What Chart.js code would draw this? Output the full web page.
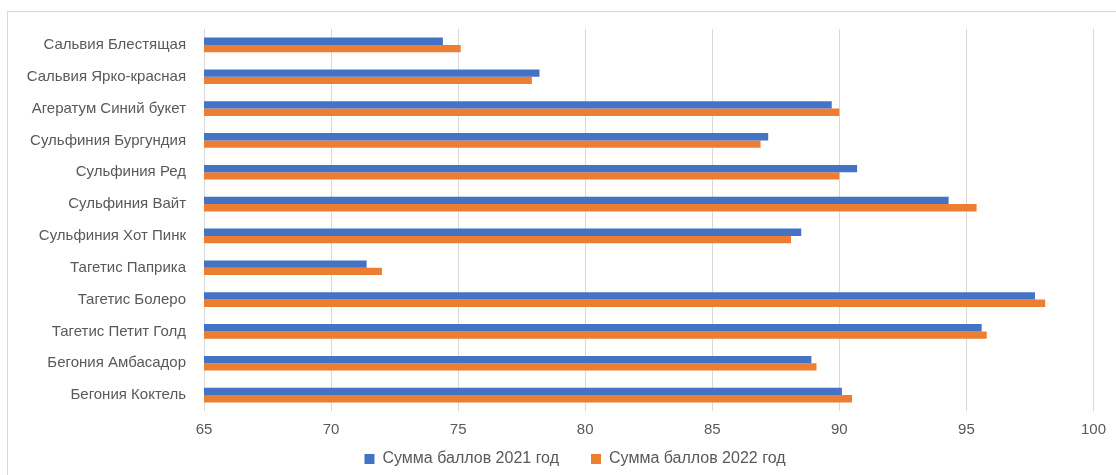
<!DOCTYPE html>
<html>
<head>
<meta charset="utf-8">
<script src="https://cdn.jsdelivr.net/npm/chart.js@4/dist/chart.umd.min.js"></script>
<style>
  html, body { margin: 0; padding: 0; background: #fff; }
  #wrap { position: relative; width: 1116px; height: 475px; }
  #wrap::before {
    content: ''; position: absolute; left: 7px; top: 11px; right: 0; bottom: 0;
    border-left: 1px solid #d9d9d9; border-top: 1px solid #d9d9d9;
  }
  canvas { position: relative; }
</style>
</head>
<body>
<div id="wrap"><canvas id="scoreChart" width="1116" height="475"></canvas></div>
<script>
const categories = [
    'Сальвия Блестящая',
    'Сальвия Ярко-красная',
    'Агератум Синий букет',
    'Сульфиния Бургундия',
    'Сульфиния Ред',
    'Сульфиния Вайт',
    'Сульфиния Хот Пинк',
    'Тагетис Паприка',
    'Тагетис Болеро',
    'Тагетис Петит Голд',
    'Бегония Амбасадор',
    'Бегония Коктель'
];
const scores2021 = [74.4, 78.2, 89.7, 87.2, 90.7, 94.3, 88.5, 71.4, 97.7, 95.6, 88.9, 90.1];
const scores2022 = [75.1, 77.9, 90.0, 86.9, 90.0, 95.4, 88.1, 72.0, 98.1, 95.8, 89.1, 90.5];
const xTicks = [65, 70, 75, 80, 85, 90, 95, 100];

const textColor = '#595959';
const gridColor = '#d9d9d9';
const fontFamily = "'Liberation Sans', Arial, sans-serif";

// The legend wants a wide gap between items (labels.padding) but that padding also
// pushes it down; squeeze its box for layout, then stretch its top back up.
const legendSqueeze = {
    id: 'legendSqueeze',
    beforeLayout(chart) {
        const legend = chart.legend;
        if (!legend || legend._squeezed) return;
        const fit = legend.fit;
        legend.fit = function () {
            fit.call(this);
            this.height = 28;
        };
        legend._squeezed = true;
    },
    afterLayout(chart) {
        const legend = chart.legend;
        legend.top -= 28;
        legend.left += 27;
        legend.right += 27;
    }
};

const ctx = document.getElementById('scoreChart').getContext('2d');
new Chart(ctx, {
    type: 'bar',
    data: {
        labels: categories,
        datasets: [{
            label: 'Сумма баллов 2021 год',
            data: scores2021,
            backgroundColor: '#4472C4'
        }, {
            label: 'Сумма баллов 2022 год',
            data: scores2022,
            backgroundColor: '#ED7D31'
        }]
    },
    options: {
        indexAxis: 'y',
        responsive: false,
        animation: false,
        layout: {
            padding: { top: 29, right: 20, left: 0, bottom: 0 }
        },
        datasets: {
            bar: { barPercentage: 1, categoryPercentage: 0.46 }
        },
        scales: {
            x: {
                min: 65,
                max: 100,
                afterBuildTicks: (scale) => {
                    scale.ticks = xTicks.map(v => ({ value: v }));
                },
                afterFit: (scale) => { scale.height = 36; },
                grid: { color: gridColor, drawTicks: false },
                border: { display: false },
                ticks: {
                    color: textColor,
                    padding: 10,
                    font: { family: fontFamily, size: 15 }
                }
            },
            y: {
                afterFit: (scale) => { scale.width = 204; },
                grid: { display: false },
                border: { display: false },
                ticks: {
                    color: textColor,
                    padding: 10,
                    font: { family: fontFamily, size: 15 }
                }
            }
        },
        plugins: {
            legend: {
                position: 'bottom',
                labels: {
                    color: textColor,
                    boxWidth: 10,
                    boxHeight: 10,
                    padding: 32,
                    font: { family: fontFamily, size: 16 }
                }
            },
            tooltip: { enabled: false }
        }
    },
    plugins: [legendSqueeze]
});
</script>
</body>
</html>
